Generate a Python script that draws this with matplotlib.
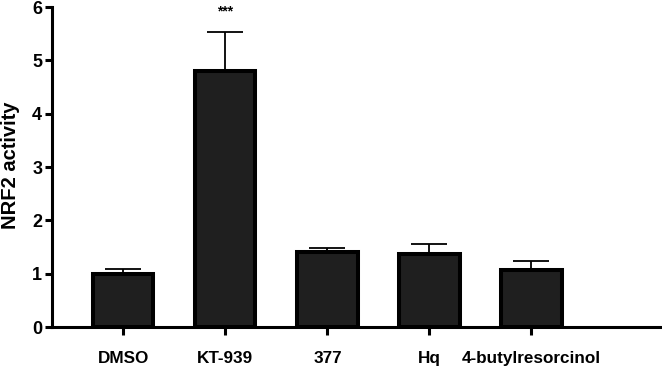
import matplotlib
matplotlib.use("Agg")
import matplotlib.pyplot as plt

categories = ["DMSO", "KT-939", "377", "Hq", "4-butylresorcinol"]
means = [1.0, 4.80, 1.41, 1.36, 1.07]
errors = [0.09, 0.74, 0.08, 0.20, 0.17]
significance = ["", "***", "", "", ""]
yticks = [0, 1, 2, 3, 4, 5, 6]

plt.rcParams['font.family'] = ['Liberation Sans', 'DejaVu Sans']
plt.rcParams['font.weight'] = 'bold'

fig = plt.figure(figsize=(6.62, 3.69), dpi=100)
ax = fig.add_axes([0.0785, 0.1138, 0.9185, 0.8672])

x = list(range(len(categories)))
ax.bar(x, means, width=0.59, color='#1f1f1f', edgecolor='black', linewidth=2.9, zorder=2)
ax.errorbar(x, means, yerr=[[0]*len(means), errors], fmt='none', ecolor='black',
            elinewidth=1.3, capsize=13, capthick=1.3, zorder=1)

for xi, m, e, s in zip(x, means, errors, significance):
    if s:
        ax.text(xi, m + e + 0.25, s, ha='center', va='bottom', fontsize=10, fontweight='bold')

ax.set_xlim(-0.7, 5.26)
ax.set_ylim(0, 6)
ax.set_yticks(yticks)
ax.set_xticks(x)
ax.set_xticklabels(categories, fontsize=12.3, fontweight='bold')
ax.set_yticklabels([str(t) for t in yticks], fontsize=13, fontweight='bold')
ax.set_ylabel("NRF2 activity", fontsize=14.5, fontweight='bold')
ax.yaxis.set_label_coords(-0.052, 0.505)

for sp in ['top', 'right']:
    ax.spines[sp].set_visible(False)
for sp in ['left', 'bottom']:
    ax.spines[sp].set_linewidth(2.2)
ax.tick_params(axis='y', width=2.2, length=5, pad=2)
ax.tick_params(axis='x', width=2.2, length=6, pad=11)

fig.savefig("out.png", dpi=100)
